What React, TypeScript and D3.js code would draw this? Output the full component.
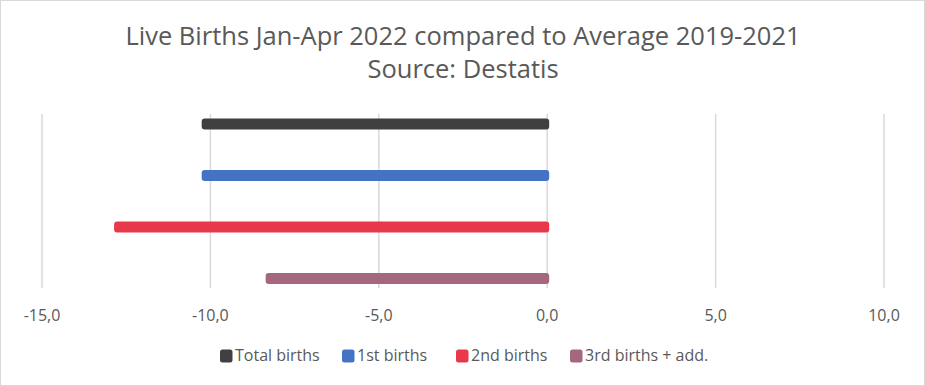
import React from "react";
import * as d3 from "d3";

const series = ["Total births", "1st births", "2nd births", "3rd births + add."];
const values = [-10.2, -10.2, -12.8, -8.3];
const colors = ["#404040", "#4472C4", "#E8384A", "#A5667F"];
const ticks = [-15, -10, -5, 0, 5, 10];
const titleLines = ["Live Births Jan-Apr 2022 compared to Average 2019-2021", "Source: Destatis"];

const W = 925;
const H = 386;
const FONT = "'Open Sans', sans-serif";

export default function App() {
  const x = d3.scaleLinear().domain([-15, 10]).range([42, 884]);
  const y = d3.scalePoint<string>().domain(series).range([124, 278.5]);
  const fmt = (v: number) => d3.format(".1f")(v).replace(".", ",").replace("−", "-");
  const barH = 11;
  const legendX = [220, 342, 456, 570];
  return (
    <svg width={W} height={H} style={{ position: "absolute", left: 0, top: 0 }}>
      <rect x={0.5} y={0.5} width={W - 1} height={H - 1} fill="#fff" stroke="#d9d9d9" />
      {titleLines.map((t, i) => (
        <text key={t} x={463} y={45 + i * 33} textAnchor="middle" fontFamily={FONT} fontSize={25.5} fill="#595959">
          {t}
        </text>
      ))}
      {ticks.map((t) => (
        <g key={t}>
          <line x1={x(t)} x2={x(t)} y1={114} y2={288} stroke="#d9d9d9" strokeWidth={1.5} />
          <text x={x(t)} y={321} textAnchor="middle" fontFamily={FONT} fontSize={16} fill="#595959">
            {fmt(t)}
          </text>
        </g>
      ))}
      {series.map((s, i) => {
        const v = values[i];
        const x0 = Math.min(x(v), x(0)) - 2;
        const x1 = Math.max(x(v), x(0)) + 2;
        return (
          <rect key={s} x={x0} y={(y(s) as number) - barH / 2} width={x1 - x0} height={barH} rx={3} fill={colors[i]} />
        );
      })}
      {series.map((s, i) => (
        <g key={s}>
          <rect x={legendX[i]} y={349.5} width={12.5} height={13} rx={2.5} fill={colors[i]} />
          <text x={legendX[i] + 15} y={361} fontFamily={FONT} fontSize={16} fill="#595959">
            {s}
          </text>
        </g>
      ))}
    </svg>
  );
}
